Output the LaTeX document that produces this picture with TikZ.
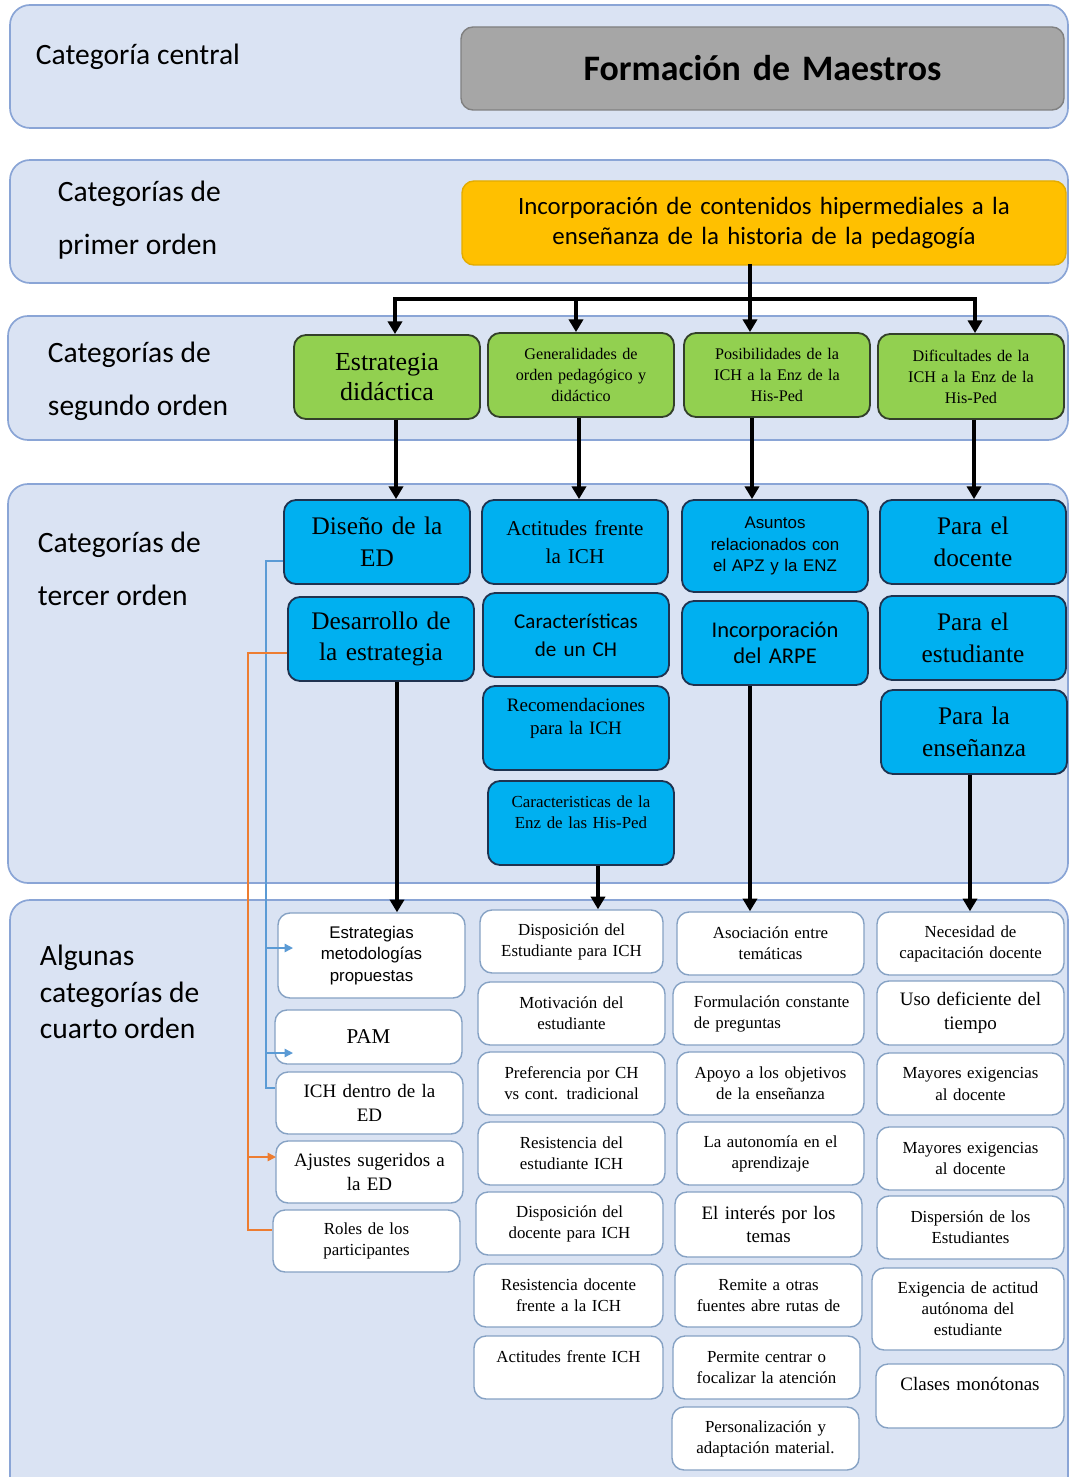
\documentclass[tikz,border=0pt]{standalone}
\usepackage{fontspec}
\setmainfont{Liberation Serif}
\newfontfamily\carl{Carlito}
\newfontfamily\arl{Liberation Sans}
\usetikzlibrary{arrows.meta}
\definecolor{bandfill}{HTML}{DAE3F3}
\definecolor{bandline}{HTML}{8AA5D6}
\definecolor{graybox}{HTML}{A6A6A6}
\definecolor{grayline}{HTML}{808080}
\definecolor{yel}{HTML}{FFC000}
\definecolor{yelline}{HTML}{E3AC00}
\definecolor{grn}{HTML}{92D050}
\definecolor{grnline}{HTML}{33402A}
\definecolor{cyn}{HTML}{00B0F0}
\definecolor{cynline}{HTML}{1F3350}
\definecolor{wline}{HTML}{86A2C4}
\definecolor{bluel}{HTML}{5B9BD5}
\definecolor{orl}{HTML}{ED7D31}
\newcommand\fs[2]{\fontsize{#1}{#2}\selectfont}
\newcommand\bx[7]{%
  \pgfmathsetmacro\bxw{(#4-#2)*0.025}%
  \pgfmathsetmacro\bxh{(#5-#3)*0.025}%
  \pgfmathsetmacro\bxt{(#4-#2)*0.025-0.2}%
  \node[#6, minimum width=\bxw cm, minimum height=\bxh cm, text width=\bxt cm, inner sep=0pt]
    (#1) at ({(#2+#4)/2},{(#3+#5)/2}) {#7};}
\tikzset{
  band/.style={fill=bandfill, draw=bandline, line width=1.2pt, rounded corners=0.5cm},
  lab/.style={anchor=west, align=left, font=\carl\fs{21}{37.6}},
  grayb/.style={fill=graybox, draw=grayline, line width=1pt, rounded corners=0.3cm, align=center},
  yelb/.style={fill=yel, draw=yelline, line width=1pt, rounded corners=0.3cm, align=center},
  gb/.style={fill=grn, draw=grnline, line width=1.3pt, rounded corners=0.3cm, align=center},
  bb/.style={fill=cyn, draw=cynline, line width=1.3pt, rounded corners=0.3cm, align=center},
  wb/.style={fill=white, draw=wline, line width=1pt, rounded corners=0.3cm, align=center, font=\fs{12}{15}},
  ln/.style={line width=2.6pt, line cap=rect},
  arr/.style={line width=2.6pt, -{Triangle[width=10pt,length=9pt]}},
  thinb/.style={draw=bluel, line width=1pt},
  thinba/.style={draw=bluel, line width=1pt, -{Triangle[width=6pt,length=6pt]}},
  thino/.style={draw=orl, line width=1pt},
  thinoa/.style={draw=orl, line width=1pt, -{Triangle[width=6pt,length=6pt]}},
}
\begin{document}
\begin{tikzpicture}[x=0.025cm, y=-0.025cm]
\useasboundingbox (0,0) rectangle (1070,1477);
\clip (0,0) rectangle (1070,1477);
\fill[white] (0,0) rectangle (1070,1477);
% bands
\draw[band] (10,5) rectangle (1068,128);
\draw[band] (10,160) rectangle (1068,283);
\draw[band] (8,316) rectangle (1068,440);
\draw[band] (8,484) rectangle (1068,883);
\draw[band] (10,900) rectangle (1068,1500);
% labels
\node[lab, font=\carl\fs{21}{25}] (l1) at (31,57) {Categoría central};
\node[lab] (l2) at (53,220) {Categorías de\\primer orden};
\node[lab] (l3) at (43,381) {Categorías de\\segundo orden};
\node[lab] (l4) at (33,569) {Categorías de\\tercer orden};
\node[lab, font=\carl\fs{21}{26}] (l5) at (35,992) {Algunas\\categorías de\\cuarto orden};
% central and first order
\bx{cen}{461}{27}{1064}{110}{grayb, font=\carl\bfseries\fs{25.5}{30}}{Formación de Maestros}
\bx{prim}{462}{181}{1066}{265}{yelb, font=\carl\fs{17.7}{21.5}}{Incorporación de contenidos hipermediales a la\\enseñanza de la historia de la pedagogía}
% second order
\bx{g1}{294}{335}{480}{419}{gb, font=\fs{18.5}{22}}{Estrategia\\didáctica}
\bx{g2}{488}{333}{674}{417}{gb, font=\fs{11.5}{15}}{Generalidades de\\orden pedagógico y\\didáctico}
\bx{g3}{684}{333}{870}{417}{gb, font=\fs{11.5}{15}}{Posibilidades de la\\ICH a la Enz de la\\His-Ped}
\bx{g4}{878}{334}{1064}{419}{gb, font=\fs{11.5}{15}}{Dificultades de la\\ICH a la Enz de la\\His-Ped}
% third order
\bx{b11}{284}{500}{470}{584}{bb, font=\fs{18}{22.5}}{Diseño de la\\ED}
\bx{b12}{288}{597}{474}{681}{bb, font=\fs{18}{22.5}}{Desarrollo de\\la estrategia}
\bx{b21}{482}{500}{668}{584}{bb, font=\fs{15}{19.5}}{Actitudes frente\\la ICH}
\bx{b22}{483}{593}{669}{677}{bb, font=\carl\fs{15}{20}}{Características\\de un CH}
\bx{b23}{483}{686}{669}{770}{bb, font=\fs{13.5}{16.5}}{Recomendaciones\\para la ICH\\\mbox{}}
\bx{b24}{488}{781}{674}{865}{bb, font=\fs{12}{15}}{Caracteristicas de la\\Enz de las His-Ped\\\mbox{}}
\bx{b31}{682}{500}{868}{592}{bb, font=\arl\fs{12}{15.5}}{Asuntos\\relacionados con\\el APZ y la ENZ}
\bx{b32}{682}{601}{868}{685}{bb, font=\carl\fs{16}{18.5}}{Incorporación\\del ARPE}
\bx{b41}{880}{500}{1066}{584}{bb, font=\fs{18}{22.5}}{Para el\\docente}
\bx{b42}{880}{596}{1066}{680}{bb, font=\fs{18}{22.5}}{Para el\\estudiante}
\bx{b43}{881}{690}{1067}{774}{bb, font=\fs{18}{22.5}}{Para la\\enseñanza}
% fourth order, column 1
\bx{w11}{278}{913}{465}{998}{wb, font=\arl\fs{12}{15.5}}{Estrategias\\metodologías\\propuestas}
\bx{w12}{275}{1010}{462}{1064}{wb, font=\fs{15}{18}}{PAM}
\bx{w13}{276}{1072}{463}{1134}{wb, font=\fs{13.5}{17}}{ICH dentro de la\\ED}
\bx{w14}{276}{1141}{463}{1203}{wb, font=\fs{13.5}{17}}{Ajustes sugeridos a\\la ED}
\bx{w15}{273}{1210}{460}{1272}{wb}{Roles de los\\participantes}
% column 2
\bx{w21}{480}{910}{663}{973}{wb}{Disposición del\\Estudiante para ICH}
\bx{w22}{478}{982}{665}{1045}{wb}{Motivación del\\estudiante}
\bx{w23}{478}{1052}{665}{1115}{wb}{Preferencia por CH\\vs cont. tradicional}
\bx{w24}{478}{1122}{665}{1185}{wb}{Resistencia del\\estudiante ICH}
\bx{w25}{476}{1192}{663}{1255}{wb}{Disposición del\\docente para ICH}
\bx{w26}{474}{1264}{663}{1327}{wb}{Resistencia docente\\frente a la ICH}
\bx{w27}{474}{1336}{663}{1399}{wb}{Actitudes frente ICH\\\mbox{}}
% column 3
\bx{w31}{677}{912}{864}{975}{wb}{Asociación entre\\temáticas}
\bx{w32}{673}{982}{864}{1045}{wb, align=left}{\hspace*{12pt}Formulación constante\\\hspace*{12pt}de preguntas}
\bx{w33}{677}{1052}{864}{1115}{wb}{Apoyo a los objetivos\\de la enseñanza}
\bx{w34}{677}{1122}{864}{1185}{wb}{La autonomía en el\\aprendizaje}
\bx{w35}{675}{1192}{862}{1257}{wb, font=\fs{13.5}{17}}{El interés por los\\temas}
\bx{w36}{675}{1264}{862}{1327}{wb}{Remite a otras\\fuentes abre rutas de}
\bx{w37}{673}{1336}{860}{1399}{wb}{Permite centrar o\\focalizar la atención}
\bx{w38}{672}{1407}{859}{1470}{wb}{Personalización y\\adaptación material.}
% column 4
\bx{w41}{877}{912}{1064}{975}{wb}{Necesidad de\\capacitación docente}
\bx{w42}{877}{981}{1064}{1045}{wb, font=\fs{13.5}{17}}{Uso deficiente del\\tiempo}
\bx{w43}{877}{1053}{1064}{1115}{wb}{Mayores exigencias\\al docente}
\bx{w44}{877}{1127}{1064}{1190}{wb}{Mayores exigencias\\al docente}
\bx{w45}{877}{1196}{1064}{1259}{wb}{Dispersión de los\\Estudiantes}
\bx{w46}{872}{1268}{1064}{1350}{wb}{Exigencia de actitud\\autónoma del\\estudiante}
\bx{w47}{876}{1364}{1064}{1428}{wb, font=\fs{13.5}{17}}{Clases monótonas\\\mbox{}}
% first-level connectors
\coordinate (h1) at (395,299);
\coordinate (h2) at (576,299);
\coordinate (h3) at (750,299);
\coordinate (h4) at (975,299);
\draw[ln] (h3 |- prim.south) -- (h3);
\draw[ln] (h1) -- (h4);
\draw[arr] (h1) -- (h1 |- g1.north);
\draw[arr] (h2) -- (h2 |- g2.north);
\draw[arr] (h3) -- (h3 |- g3.north);
\draw[arr] (h4) -- (h4 |- g4.north);
% second-level connectors
\coordinate (v1) at (396,0);
\coordinate (v2) at (579,0);
\coordinate (v3) at (752,0);
\coordinate (v4) at (974,0);
\draw[arr] (v1 |- g1.south) -- (v1 |- b11.north);
\draw[arr] (v2 |- g2.south) -- (v2 |- b21.north);
\draw[arr] (v3 |- g3.south) -- (v3 |- b31.north);
\draw[arr] (v4 |- g4.south) -- (v4 |- b41.north);
% third-level connectors
\coordinate (d1) at (397,0);
\coordinate (d2) at (598,0);
\coordinate (d3) at (750,0);
\coordinate (d4) at (970,0);
\draw[arr] (d1 |- b12.south) -- (d1 |- w11.north);
\draw[arr] (d2 |- b24.south) -- (d2 |- w21.north);
\draw[arr] (d3 |- b32.south) -- (d3 |- w31.north);
\draw[arr] (d4 |- b43.south) -- (d4 |- w41.north);
% blue thin connector from Diseno de la ED
\coordinate (bv1) at (266,561);
\coordinate (bv2) at (266,1088);
\coordinate (ba1) at (266,948);
\coordinate (bt1) at (293,948);
\coordinate (ba2) at (266,1053);
\coordinate (bt2) at (293,1053);
\draw[thinb] (bv1 -| b11.west) -- (bv1) -- (bv2) -- (bv2 -| w13.west);
\draw[thinba] (ba1) -- (bt1);
\draw[thinba] (ba2) -- (bt2);
% orange thin connector from Desarrollo de la estrategia
\coordinate (ov1) at (248,653);
\coordinate (ov2) at (248,1230);
\coordinate (oa1) at (248,1157);
\coordinate (ot1) at (276,1157);
\draw[thino] (ov1 -| b12.west) -- (ov1) -- (ov2) -- (ov2 -| w15.west);
\draw[thinoa] (oa1) -- (ot1);
\end{tikzpicture}
\end{document}
